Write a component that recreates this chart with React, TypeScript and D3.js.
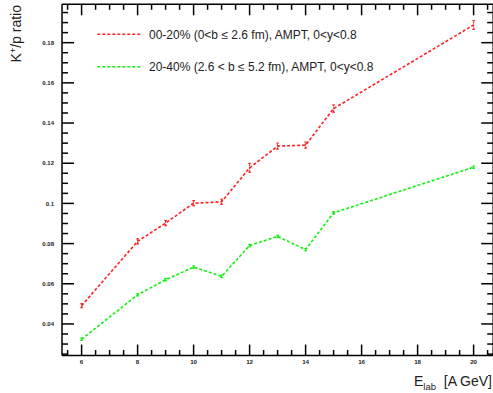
import React from "react";
import * as d3 from "d3";

// Beam energies (A GeV)
const energies = [6, 8, 9, 10, 11, 12, 13, 14, 15, 20];
// K+/p ratio, central 00-20%
const central = [0.0491, 0.0811, 0.0902, 0.1001, 0.1008, 0.1177, 0.1285, 0.1290, 0.1472, 0.1888];
const centralErr = [0.0010, 0.0013, 0.0013, 0.0013, 0.0013, 0.0022, 0.0015, 0.0015, 0.0018, 0.0022];
// K+/p ratio, mid-central 20-40%
const midCentral = [0.0324, 0.0545, 0.0620, 0.0683, 0.0637, 0.0790, 0.0836, 0.0770, 0.0953, 0.1180];
const midCentralErr = [0.0006, 0.0006, 0.0006, 0.0006, 0.0006, 0.0006, 0.0006, 0.0006, 0.0006, 0.0006];

const xMajorTicks = [6, 8, 10, 12, 14, 16, 18, 20];
const yMajorTicks = [0.04, 0.06, 0.08, 0.1, 0.12, 0.14, 0.16, 0.18];

const legendLabels = [
  "00-20% (0<b \u2264 2.6 fm), AMPT, 0<y<0.8",
  "20-40% (2.6 < b \u2264 5.2 fm), AMPT, 0<y<0.8",
];

const W = 493;
const H = 393;
const left = 62;
const right = 493.2;
const top = 4.3;
const bottom = 355.5;

const FONT = "'Liberation Sans', Arial, Helvetica, sans-serif";
const INK = "#222";
const AXIS_W = 1.5;

export default function App() {
  const x = d3.scaleLinear().domain([5.3, 20.7]).range([left, right]);
  const y = d3.scaleLinear().domain([0.0243, 0.1991]).range([bottom, top]);

  const xMinor = d3.range(5.5, 20.71, 0.5).filter((v) => Math.abs(v % 2) > 1e-6);
  const yMinor = d3
    .range(0.025, 0.1991, 0.005)
    .filter((v) => !yMajorTicks.some((t) => Math.abs(t - v) < 1e-6));

  const line = d3
    .line<number>()
    .x((_, i) => x(energies[i]))
    .y((d) => y(d));

  const series = [
    { values: central, errs: centralErr, color: "#ff2020" },
    { values: midCentral, errs: midCentralErr, color: "#10f010" },
  ];

  return (
    <svg
      width={W}
      height={H}
      style={{ position: "absolute", left: 0, top: 0, background: "#fff" }}
      fontFamily={FONT}
    >
      {/* frame */}
      <g stroke="#000" strokeWidth={AXIS_W}>
        <line x1={left} x2={right} y1={top} y2={top} />
        <line x1={left} x2={right} y1={bottom} y2={bottom} />
        <line x1={left} x2={left} y1={top} y2={bottom} />
        <line x1={right} x2={right} y1={top} y2={bottom} />
      </g>

      {/* x ticks, bottom and top */}
      {xMajorTicks.map((t) => (
        <g key={"xm" + t}>
          <line x1={x(t)} x2={x(t)} y1={bottom} y2={bottom - 11} stroke="#000" strokeWidth={AXIS_W} />
          <line x1={x(t)} x2={x(t)} y1={top} y2={top + 11} stroke="#000" strokeWidth={AXIS_W} />
          <text
            x={x(t)}
            y={bottom + 8.5}
            fontSize={6.2}
            fontWeight="bold"
            fill={INK}
            textAnchor="middle"
          >
            {t}
          </text>
        </g>
      ))}
      {xMinor.map((t) => (
        <g key={"xn" + t}>
          <line x1={x(t)} x2={x(t)} y1={bottom} y2={bottom - 5.5} stroke="#000" strokeWidth={AXIS_W} />
          <line x1={x(t)} x2={x(t)} y1={top} y2={top + 5.5} stroke="#000" strokeWidth={AXIS_W} />
        </g>
      ))}

      {/* y ticks, left and right */}
      {yMajorTicks.map((t) => (
        <g key={"ym" + t}>
          <line x1={left} x2={left + 12} y1={y(t)} y2={y(t)} stroke="#000" strokeWidth={AXIS_W} />
          <line x1={right} x2={right - 12} y1={y(t)} y2={y(t)} stroke="#000" strokeWidth={AXIS_W} />
          <text
            x={left - 8}
            y={y(t) + 2.1}
            fontSize={6}
            fontWeight="bold"
            fill={INK}
            textAnchor="end"
          >
            {d3.format("~g")(t)}
          </text>
        </g>
      ))}
      {yMinor.map((t) => (
        <g key={"yn" + t}>
          <line x1={left} x2={left + 6} y1={y(t)} y2={y(t)} stroke="#000" strokeWidth={AXIS_W} />
          <line x1={right} x2={right - 6} y1={y(t)} y2={y(t)} stroke="#000" strokeWidth={AXIS_W} />
        </g>
      ))}

      {/* series */}
      {series.map((s, si) => (
        <g key={"s" + si}>
          <path
            d={line(s.values) ?? ""}
            fill="none"
            stroke={s.color}
            strokeWidth={1.6}
            strokeDasharray="3,2"
          />
          {s.values.map((v, i) => {
            const cx = x(energies[i]);
            const y0 = y(v - s.errs[i]);
            const y1 = y(v + s.errs[i]);
            return (
              <g key={i} stroke={s.color} strokeWidth={1.2}>
                <line x1={cx} x2={cx} y1={y0} y2={y1} strokeDasharray="2,1" />
                <line x1={cx - 1.3} x2={cx + 1.3} y1={y0} y2={y0} />
                <line x1={cx - 1.3} x2={cx + 1.3} y1={y1} y2={y1} />
              </g>
            );
          })}
        </g>
      ))}

      {/* legend */}
      {legendLabels.map((lab, i) => {
        const ly = i === 0 ? 34.3 : 66.7;
        return (
          <g key={"lg" + i}>
            <line
              x1={97.3}
              x2={140.7}
              y1={ly}
              y2={ly}
              stroke={series[i].color}
              strokeWidth={1.4}
              strokeDasharray="3,2"
            />
            <text x={149} y={ly + 4.2} fontSize={12} fill={INK}>
              {lab}
            </text>
          </g>
        );
      })}

      {/* axis titles */}
      <text
        transform="translate(20.5,5) rotate(-90)"
        textAnchor="end"
        fontSize={14}
        fill={INK}
      >
        K<tspan fontSize={9} dy={-5}>+</tspan>
        <tspan dy={5}>/p ratio</tspan>
      </text>
      <text x={492} y={386} textAnchor="end" fontSize={14} fill={INK} xmlSpace="preserve">
        E<tspan fontSize={9.5} dy={3.5}>lab</tspan>
        <tspan dy={-3.5}>{"\u00a0\u00a0[A GeV]"}</tspan>
      </text>
    </svg>
  );
}
